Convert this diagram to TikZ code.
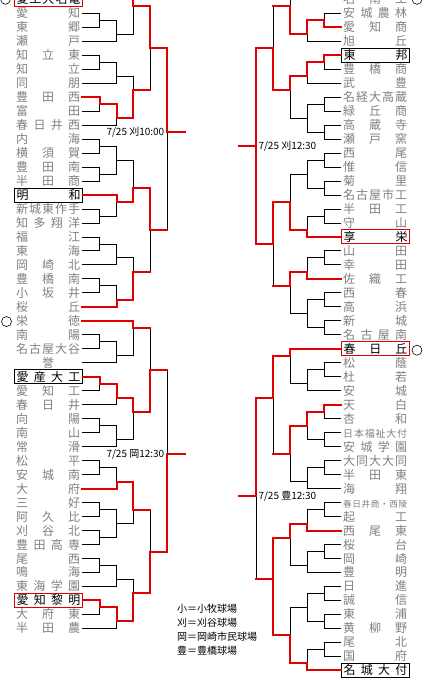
\documentclass[tikz,border=0pt]{standalone}
\usepackage{fontspec}
\newfontfamily\jp{Noto Sans CJK JP}
\usepackage{xcolor}
\definecolor{namegray}{RGB}{128,128,128}
\definecolor{winred}{RGB}{225,0,0}

% team name spread over the name column
\newcommand\tn[1]{\hbox to 64pt{\tnfirst#1\tnend}}
\def\tnfirst#1#2\tnend{\ifx\relax#2\relax\hfil#1\hfil\else#1\tnrest#2\tnend\fi}
\def\tnrest#1#2\tnend{\hfill#1\ifx\relax#2\relax\else\tnrest#2\tnend\fi}

% game: name, x, upper in, lower in, out row, winner (u/l/b/n), style upper, style lower
\newcommand\jn[8]{%
  \coordinate (#1) at (#2,#5);
  \if#6u \draw[lose] (#1) -- (#4 -| #1);\fi
  \if#6l \draw[lose] (#3 -| #1) -- (#1);\fi
  \if#6n \draw[lose] (#3 -| #1) -- (#4 -| #1);\fi
  \draw[#7] (#3) -- (#3 -| #1);
  \draw[#8] (#4) -- (#4 -| #1);
  \if#6u \draw[win] (#3 -| #1) -- (#1);\fi
  \if#6l \draw[win] (#1) -- (#4 -| #1);\fi
  \if#6b \draw[win] (#3 -| #1) -- (#4 -| #1);\fi
}

\begin{document}
\begin{tikzpicture}[
    x=1pt, y=-6.99pt,
    font=\jp,
    team/.style={anchor=west, inner xsep=2pt, inner ysep=0pt, minimum height=14pt, text height=10.5pt, text depth=1.5pt, text=namegray, font=\jp\fontsize{12}{14}\selectfont},
    teamsm/.style={team, font=\jp\fontsize{10}{12}\selectfont},
    teamxs/.style={team, font=\jp\fontsize{8.6}{10}\selectfont},
    redbox/.style={team, draw=winred, line width=1pt, text=black},
    blackbox/.style={team, draw=black, line width=1pt, text=black},
    win/.style={draw=winred, line width=2pt, line cap=rect},
    lose/.style={draw=black, line width=0.9pt, line cap=rect},
    datelbl/.style={inner sep=0pt, font=\jp\fontsize{10}{12}\selectfont, text height=8.8pt, text depth=1.2pt},
    keytext/.style={anchor=west, inner sep=0pt, font=\jp\fontsize{10}{12}\selectfont, text height=8.8pt, text depth=1.2pt},
    seedmark/.style={circle, draw=black, line width=0.6pt, minimum size=10pt, inner sep=0pt}
]
    \useasboundingbox (0,0.1) rectangle (423,97.24);
    \clip (0,0.1) rectangle (423,97.24);

    % left block teams
    \foreach \nm/\st [count=\i from 0] in {愛工大名電/redbox,愛知/team,東郷/team,瀬戸/team,知立東/team,知立/team,同朋/team,豊田西/team,富田/team,春日井西/team,内海/team,横須賀/team,豊田南/team,半田商/team,明和/blackbox,新城東作手/team,知多翔洋/team,福江/team,東海/team,岡崎北/team,豊橋南/team,小坂井/team,桜丘/team,栄徳/team,南陽/team,名古屋大谷/team,誉/team,愛産大工/blackbox,愛知工/team,春日井/team,向陽/team,南山/team,常滑/team,松平/team,安城南/team,大府/team,三好/team,阿久比/team,刈谷北/team,豊田高専/team,尾西/team,鳴海/team,東海学園/team,愛知黎明/redbox,大府東/team,半田農/team}
        \node[\st] (L\i) at (14,2*\i) {\expandafter\tn\expandafter{\nm}};

    % right block teams
    \foreach \nm/\st [count=\i from 0] in {名南工/team,安城農林/team,愛知商/team,旭丘/team,東邦/blackbox,豊橋商/team,武豊/team,名経大高蔵/team,緑丘商/team,高蔵寺/team,瀬戸窯/team,西尾/team,惟信/team,菊里/team,名古屋市工/team,半田工/team,守山/team,享栄/redbox,山田/team,幸田/team,佐織工/team,西春/team,高浜/team,新城/team,名古屋南/team,春日丘/redbox,松蔭/team,杜若/team,安城/team,天白/team,杏和/team,日本福祉大付/teamsm,安城学園/team,大同大大同/team,半田東/team,海翔/team,春日井商・西陵/teamxs,起工/team,西尾東/team,桜台/team,岡崎/team,豊明/team,日進/team,誠信/team,東浦/team,黄柳野/team,尾北/team,国府/team,名城大付/blackbox}
        \node[\st] (R\i) at (341,2*\i) {\expandafter\tn\expandafter{\nm}};

    % seed marks
    \node[seedmark] (mk1) at (5.5,0) {};
    \node[seedmark] (mk2) at (6.5,46.1) {};
    \node[seedmark] (mk3) at (417,0) {};
    \node[seedmark] (mk4) at (417,50.2) {};

    % left, upper half
    \jn{la3}{99.5}{L1}{L2}{3}{n}{lose}{lose}
    \jn{lb5}{116.5}{la3}{L3}{5}{n}{lose}{lose}
    \jn{lc1}{133.3}{L0}{lb5}{1}{u}{win}{lose}
    \jn{la9}{99.5}{L4}{L5}{9}{n}{lose}{lose}
    \jn{lb11}{116.5}{la9}{L6}{11}{n}{lose}{lose}
    \jn{la15}{99.5}{L7}{L8}{15}{u}{win}{lose}
    \jn{lb17}{116.5}{la15}{L9}{17}{u}{win}{lose}
    \jn{lc13}{133.3}{lb11}{lb17}{13}{l}{lose}{win}
    \jn{ld7}{150}{lc1}{lc13}{7}{u}{win}{win}
    \jn{la21}{99.5}{L10}{L11}{21}{n}{lose}{lose}
    \jn{la25}{99.5}{L12}{L13}{25}{n}{lose}{lose}
    \jn{lb23}{116.5}{la21}{la25}{23}{n}{lose}{lose}
    \jn{la31}{99.5}{L15}{L16}{31}{n}{lose}{lose}
    \jn{lb29}{116.5}{L14}{la31}{29}{u}{win}{lose}
    \jn{lc27}{133.3}{lb23}{lb29}{27}{l}{lose}{win}
    \jn{la35}{99.5}{L17}{L18}{35}{n}{lose}{lose}
    \jn{lb37}{116.5}{la35}{L19}{37}{n}{lose}{lose}
    \jn{la41}{99.5}{L20}{L21}{41}{n}{lose}{lose}
    \jn{lb43}{116.5}{la41}{L22}{43}{l}{lose}{win}
    \jn{lc39}{133.3}{lb37}{lb43}{39}{l}{lose}{win}
    \jn{ld33}{150}{lc27}{lc39}{33}{u}{win}{win}
    \jn{le19}{167.3}{ld7}{ld33}{19}{u}{win}{win}

    % left, lower half
    \jn{la49}{99.5}{L24}{L25}{49}{n}{lose}{lose}
    \jn{lb51}{116.5}{la49}{L26}{51}{n}{lose}{lose}
    \jn{lc47}{133.3}{L23}{lb51}{47}{u}{win}{lose}
    \jn{la55}{99.5}{L27}{L28}{55}{u}{win}{lose}
    \jn{lb57}{116.5}{la55}{L29}{57}{u}{win}{lose}
    \jn{la61}{99.5}{L30}{L31}{61}{n}{lose}{lose}
    \jn{lb63}{116.5}{la61}{L32}{63}{n}{lose}{lose}
    \jn{lc59}{133.3}{lb57}{lb63}{59}{u}{win}{lose}
    \jn{ld53}{150}{lc47}{lc59}{53}{l}{win}{win}
    \jn{la67}{99.5}{L33}{L34}{67}{n}{lose}{lose}
    \jn{lb69}{116.5}{la67}{L35}{69}{l}{lose}{win}
    \jn{la73}{99.5}{L36}{L37}{73}{n}{lose}{lose}
    \jn{la77}{99.5}{L38}{L39}{77}{n}{lose}{lose}
    \jn{lb75}{116.5}{la73}{la77}{75}{n}{lose}{lose}
    \jn{lc73}{133.3}{lb69}{lb75}{73}{u}{win}{lose}
    \jn{la81}{99.5}{L40}{L41}{81}{n}{lose}{lose}
    \jn{lb83}{116.5}{la81}{L42}{83}{n}{lose}{lose}
    \jn{la87}{99.5}{L43}{L44}{87}{u}{win}{lose}
    \jn{lb89}{116.5}{la87}{L45}{89}{u}{win}{lose}
    \jn{lc85}{133.3}{lb83}{lb89}{85}{l}{lose}{win}
    \jn{ld79}{150}{lc73}{lc85}{79}{l}{win}{win}
    \jn{le65}{167.3}{ld53}{ld79}{65}{l}{win}{win}

    % right, upper half
    \jn{ra3}{324.3}{R1}{R2}{3}{l}{lose}{win}
    \jn{rb5}{307.3}{ra3}{R3}{5}{u}{win}{lose}
    \jn{rc1}{290}{R0}{rb5}{1}{l}{lose}{win}
    \jn{ra9}{324.3}{R4}{R5}{9}{u}{win}{lose}
    \jn{rb11}{307.3}{ra9}{R6}{11}{u}{win}{lose}
    \jn{ra15}{324.3}{R7}{R8}{15}{n}{lose}{lose}
    \jn{ra19}{324.3}{R9}{R10}{19}{n}{lose}{lose}
    \jn{rb17}{307.3}{ra15}{ra19}{17}{n}{lose}{lose}
    \jn{rc13}{290}{rb11}{rb17}{13}{u}{win}{lose}
    \jn{rd7}{273.3}{rc1}{rc13}{7}{l}{win}{win}
    \jn{ra23}{324.3}{R11}{R12}{23}{n}{lose}{lose}
    \jn{ra27}{324.3}{R13}{R14}{27}{n}{lose}{lose}
    \jn{rb25}{307.3}{ra23}{ra27}{25}{n}{lose}{lose}
    \jn{ra31}{324.3}{R15}{R16}{31}{n}{lose}{lose}
    \jn{rb33}{307.3}{ra31}{R17}{33}{l}{lose}{win}
    \jn{rc29}{290}{rb25}{rb33}{29}{l}{lose}{win}
    \jn{ra37}{324.3}{R18}{R19}{37}{n}{lose}{lose}
    \jn{rb39}{307.3}{ra37}{R20}{39}{l}{lose}{win}
    \jn{ra43}{324.3}{R21}{R22}{43}{n}{lose}{lose}
    \jn{ra47}{324.3}{R23}{R24}{47}{n}{lose}{lose}
    \jn{rb45}{307.3}{ra43}{ra47}{45}{n}{lose}{lose}
    \jn{rc41}{290}{rb39}{rb45}{41}{u}{win}{lose}
    \jn{rd35}{273.3}{rc29}{rc41}{35}{u}{win}{win}
    \jn{re21}{256}{rd7}{rd35}{21}{b}{win}{win}

    % right, lower half
    \jn{ra53}{324.3}{R26}{R27}{53}{n}{lose}{lose}
    \jn{rb55}{307.3}{ra53}{R28}{55}{n}{lose}{lose}
    \jn{rc51}{290}{R25}{rb55}{51}{u}{win}{lose}
    \jn{ra59}{324.3}{R29}{R30}{59}{u}{win}{lose}
    \jn{ra63}{324.3}{R31}{R32}{63}{n}{lose}{lose}
    \jn{rb61}{307.3}{ra59}{ra63}{61}{u}{win}{lose}
    \jn{ra67}{324.3}{R33}{R34}{67}{n}{lose}{lose}
    \jn{rb69}{307.3}{ra67}{R35}{69}{n}{lose}{lose}
    \jn{rc65}{290}{rb61}{rb69}{65}{u}{win}{lose}
    \jn{rd57}{273.3}{rc51}{rc65}{57}{u}{win}{win}
    \jn{ra73}{324.3}{R36}{R37}{73}{n}{lose}{lose}
    \jn{rb75}{307.3}{ra73}{R38}{75}{l}{lose}{win}
    \jn{ra79}{324.3}{R39}{R40}{79}{n}{lose}{lose}
    \jn{rb81}{307.3}{ra79}{R41}{81}{n}{lose}{lose}
    \jn{rc77}{290}{rb75}{rb81}{77}{u}{win}{lose}
    \jn{ra85}{324.3}{R42}{R43}{85}{n}{lose}{lose}
    \jn{ra89}{324.3}{R44}{R45}{89}{n}{lose}{lose}
    \jn{rb87}{307.3}{ra85}{ra89}{87}{n}{lose}{lose}
    \jn{ra93}{324.3}{R46}{R47}{93}{n}{lose}{lose}
    \jn{rb95}{307.3}{ra93}{R48}{95}{l}{lose}{win}
    \jn{rc91}{290}{rb87}{rb95}{91}{l}{lose}{win}
    \jn{rd83}{273.3}{rc77}{rc91}{83}{b}{win}{win}
    \jn{re71}{256}{rd57}{rd83}{71}{u}{win}{win}

    % ties to the semifinals
    \coordinate (lout1) at (185,19);
    \coordinate (lout2) at (185,65);
    \coordinate (rout1) at (239.3,21);
    \coordinate (rout2) at (239.3,71);
    \draw[win] (le19) -- (lout1);
    \draw[win] (le65) -- (lout2);
    \draw[win] (re21) -- (rout1);
    \draw[win] (re71) -- (rout2);

    % dates
    \node[datelbl, anchor=east] (dt1) at (164.5,19) {7/25 刈10:00};
    \node[datelbl, anchor=east] (dt2) at (164.5,65) {7/25 岡12:30};
    \node[datelbl, anchor=west] (dt3) at (258.3,21) {7/25 刈12:30};
    \node[datelbl, anchor=west] (dt4) at (258.3,71) {7/25 豊12:30};

    % ground key
    \foreach \t [count=\k from 0] in {小＝小牧球場,刈＝刈谷球場,岡＝岡崎市民球場,豊＝豊橋球場}
        \node[keytext] (key\k) at (177,87.2+2*\k) {\t};
\end{tikzpicture}
\end{document}
